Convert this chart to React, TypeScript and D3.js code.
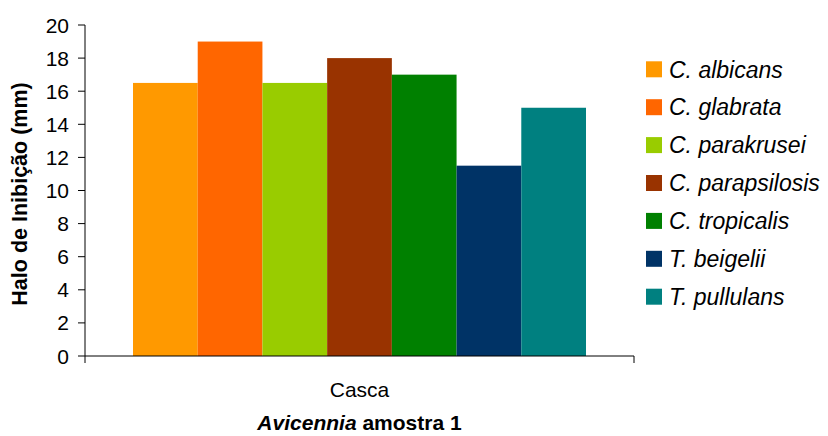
import React from "react";
import * as d3 from "d3";

const categories = ["Casca"];
const seriesNames = [
  "C. albicans",
  "C. glabrata",
  "C. parakrusei",
  "C. parapsilosis",
  "C. tropicalis",
  "T. beigelii",
  "T. pullulans",
];
const seriesValues = [16.5, 19, 16.5, 18, 17, 11.5, 15];
const seriesColors = ["#FF9900", "#FF6600", "#99CC00", "#993300", "#008000", "#003366", "#008080"];
const yTicks = [0, 2, 4, 6, 8, 10, 12, 14, 16, 18, 20];

const W = 828;
const H = 436;
const plotLeft = 85;
const plotRight = 634;
const plotTop = 25;
const plotBottom = 356;
const font = "'Liberation Sans', Arial, sans-serif";

export default function App() {
  const y = d3.scaleLinear().domain([0, 20]).range([plotBottom, plotTop]);
  const x0 = d3.scaleBand().domain(categories).range([plotLeft, plotRight]);
  const x1 = d3
    .scaleBand()
    .domain(seriesNames)
    .range([48, x0.bandwidth() - 48])
    .padding(0);

  return (
    <svg
      width={W}
      height={H}
      style={{ position: "absolute", left: 0, top: 0, background: "#fff" }}
      fontFamily={font}
    >
      {/* bars */}
      {categories.map((c) => (
        <g key={c} transform={`translate(${x0(c)},0)`}>
          {seriesNames.map((s, i) => (
            <rect
              key={s}
              x={x1(s)}
              y={y(seriesValues[i])}
              width={x1.bandwidth()}
              height={plotBottom - y(seriesValues[i])}
              fill={seriesColors[i]}
            />
          ))}
        </g>
      ))}

      {/* y axis */}
      <line x1={plotLeft} x2={plotLeft} y1={plotTop} y2={plotBottom + 7} stroke="#000" strokeWidth={1} />
      {yTicks.map((t) => (
        <g key={t}>
          <line x1={plotLeft - 7} x2={plotLeft} y1={y(t)} y2={y(t)} stroke="#000" strokeWidth={1} />
          <text x={69} y={y(t)} dy="0.36em" textAnchor="end" fontSize={21} fill="#000">
            {t}
          </text>
        </g>
      ))}

      {/* x axis */}
      <line x1={plotLeft} x2={plotRight} y1={plotBottom} y2={plotBottom} stroke="#000" strokeWidth={1} />
      <line x1={plotRight} x2={plotRight} y1={plotBottom} y2={plotBottom + 7} stroke="#000" strokeWidth={1} />
      {categories.map((c) => (
        <text
          key={c}
          x={(x0(c) as number) + x0.bandwidth() / 2}
          y={397}
          textAnchor="middle"
          fontSize={21}
          fill="#000"
        >
          {c}
        </text>
      ))}

      {/* y title */}
      <text
        transform={`translate(27,194) rotate(-90)`}
        textAnchor="middle"
        fontSize={21.5}
        fontWeight="bold"
        fill="#000"
      >
        Halo de Inibição (mm)
      </text>

      {/* x title */}
      <text x={(plotLeft + plotRight) / 2} y={430} textAnchor="middle" fontSize={21} fontWeight="bold" fill="#000">
        <tspan fontStyle="italic">Avicennia</tspan>
        <tspan> amostra 1</tspan>
      </text>

      {/* legend */}
      {seriesNames.map((s, i) => {
        const cy = 69.3 + i * 37.9;
        return (
          <g key={s}>
            <rect x={646} y={cy - 8} width={16} height={16} fill={seriesColors[i]} />
            <text x={669} y={cy} dy="0.36em" fontSize={23} fontStyle="italic" fill="#000">
              {s}
            </text>
          </g>
        );
      })}
    </svg>
  );
}
